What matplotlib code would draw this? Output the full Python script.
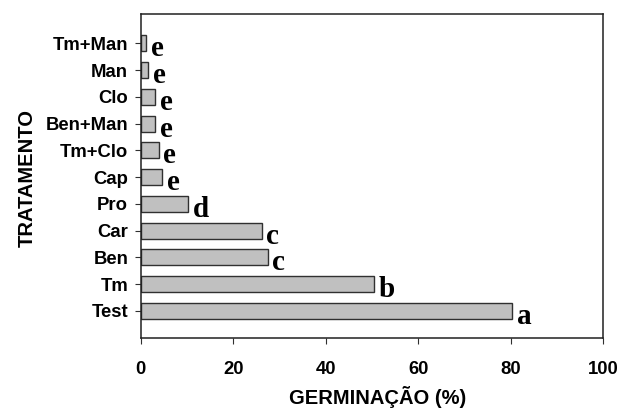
import matplotlib
matplotlib.use("Agg")
import matplotlib.pyplot as plt
import numpy as np

treatments = ["Test", "Tm", "Ben", "Car", "Pro", "Cap", "Tm+Clo", "Ben+Man", "Clo", "Man", "Tm+Man"]
germination = [80.4, 50.5, 27.5, 26.2, 10.2, 4.7, 3.9, 3.2, 3.1, 1.6, 1.2]
groups = ["a", "b", "c", "c", "d", "e", "e", "e", "e", "e", "e"]
xticks = [0, 20, 40, 60, 80, 100]


def main():
    fig = plt.figure(figsize=(6.2, 4.16), dpi=100)
    ax = fig.add_axes([0.2269, 0.1868, 0.7457, 0.7803])

    y = np.arange(len(treatments))
    ax.barh(y, germination, height=0.6, color="#c0c0c0", edgecolor="#303030", linewidth=1.0)

    # significance letters, bold serif just past the bar end
    for yi, val, g in zip(y, germination, groups):
        ax.text(val + 1.0, yi - 0.49, g, fontsize=21, fontweight="bold",
                family="Liberation Serif", ha="left", va="baseline")

    ax.set_xlim(0, 100)
    ax.set_ylim(-1.03, 11.11)
    ax.set_xticks(xticks)
    ax.set_yticks(y)
    ax.set_yticklabels(treatments)

    for lab in ax.get_xticklabels() + ax.get_yticklabels():
        lab.set_family("Liberation Sans")
        lab.set_fontweight("bold")
        lab.set_fontsize(13.3)

    ax.tick_params(axis="x", direction="out", length=4, width=0.8, pad=12, color="#303030")
    ax.tick_params(axis="y", direction="out", length=4, width=0.8, pad=5, color="#303030")
    for s in ax.spines.values():
        s.set_linewidth(1.1)
        s.set_color("#202020")

    fig.text(378 / 620, 1 - 397 / 416, "GERMINAÇÃO (%)",
             family="Liberation Sans", fontweight="bold", fontsize=14.5,
             ha="center", va="center")
    fig.text(27.5 / 620, 1 - 178 / 416, "TRATAMENTO", family="Liberation Sans",
             fontweight="bold", fontsize=14.5, rotation=90, ha="center", va="center")

    fig.savefig("out.png", dpi=100)
    plt.close(fig)


if __name__ == "__main__":
    main()
